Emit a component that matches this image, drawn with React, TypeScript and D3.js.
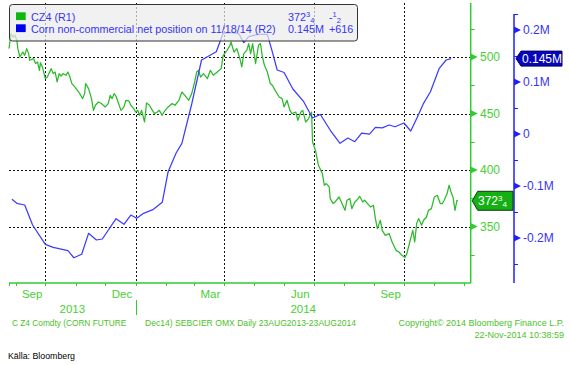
import React from "react";
import * as d3 from "d3";

// ---- Data ----
const czDates = [
  "2013-08-25","2013-08-27","2013-08-29","2013-08-31","2013-09-02","2013-09-03","2013-09-05","2013-09-08","2013-09-10","2013-09-12",
  "2013-09-14","2013-09-15","2013-09-19","2013-09-21","2013-09-23","2013-09-25","2013-09-26","2013-09-28","2013-10-01","2013-10-03",
  "2013-10-07","2013-10-09","2013-10-11","2013-10-13","2013-10-15","2013-10-17","2013-10-19","2013-10-22","2013-10-24","2013-10-26",
  "2013-10-28","2013-10-31","2013-11-04","2013-11-08","2013-11-10","2013-11-11","2013-11-14","2013-11-17","2013-11-19","2013-11-21",
  "2013-11-24","2013-11-27","2013-12-01","2013-12-04","2013-12-06","2013-12-08","2013-12-10","2013-12-12","2013-12-14","2013-12-17",
  "2013-12-20","2013-12-22","2013-12-25","2013-12-27","2013-12-30","2014-01-01","2014-01-03","2014-01-05","2014-01-07","2014-01-10",
  "2014-01-12","2014-01-15","2014-01-18","2014-01-20","2014-01-23","2014-01-25","2014-01-28","2014-01-29","2014-01-31","2014-02-03",
  "2014-02-07","2014-02-10","2014-02-14","2014-02-17","2014-02-20","2014-02-24","2014-02-27","2014-03-02","2014-03-04","2014-03-06",
  "2014-03-08","2014-03-11","2014-03-15","2014-03-18","2014-03-21","2014-03-25","2014-03-29","2014-03-31","2014-04-04","2014-04-07",
  "2014-04-08","2014-04-11","2014-04-14","2014-04-17","2014-04-19","2014-04-21","2014-04-24","2014-04-26","2014-04-28","2014-04-30",
  "2014-05-03","2014-05-06","2014-05-08","2014-05-10","2014-05-12","2014-05-15","2014-05-18","2014-05-20","2014-05-23","2014-05-27",
  "2014-05-30","2014-06-01","2014-06-04","2014-06-07","2014-06-09","2014-06-13","2014-06-15","2014-06-18","2014-06-20","2014-06-23",
  "2014-06-26","2014-06-29","2014-06-30","2014-07-03","2014-07-06","2014-07-10","2014-07-12","2014-07-14","2014-07-17","2014-07-18",
  "2014-07-21","2014-07-23","2014-07-27","2014-07-30","2014-08-02","2014-08-04","2014-08-07","2014-08-09","2014-08-12","2014-08-14",
  "2014-08-17","2014-08-20","2014-08-22","2014-08-25","2014-08-28","2014-08-31","2014-09-02","2014-09-04","2014-09-07","2014-09-09",
  "2014-09-12","2014-09-16","2014-09-19","2014-09-23","2014-09-26","2014-09-29","2014-10-02","2014-10-04","2014-10-07","2014-10-10",
  "2014-10-12","2014-10-14","2014-10-16","2014-10-19","2014-10-21","2014-10-24","2014-10-26","2014-10-29","2014-11-01","2014-11-04",
  "2014-11-07","2014-11-09","2014-11-11","2014-11-14","2014-11-16","2014-11-18","2014-11-20","2014-11-22","2014-11-24","2014-11-25",
];
const czPrices = [
  507.4,520.7,517.7,519.2,514.8,507.4,500.0,504.4,501.5,507.4,
  503.0,497.1,498.6,494.2,495.6,488.2,495.0,491.2,480.9,482.3,
  489.7,485.3,486.7,477.9,485.3,483.2,485.3,483.8,486.7,482.3,
  476.5,473.5,469.0,463.2,467.6,476.5,472.0,463.2,452.8,457.3,
  460.2,458.8,455.8,458.8,466.1,463.2,467.6,465.2,460.2,452.8,
  455.8,461.7,461.1,457.3,454.3,451.3,452.8,448.4,452.8,442.5,
  459.3,457.3,452.8,449.9,451.3,452.8,448.4,450.2,452.8,455.8,
  458.8,457.3,461.7,469.0,466.1,461.7,467.6,477.9,486.7,488.2,
  482.3,485.3,480.9,488.2,483.8,486.7,489.7,501.5,505.9,510.4,
  513.3,504.4,507.4,498.6,491.2,503.0,505.9,511.9,503.0,511.9,
  494.2,510.4,511.9,500.0,492.7,486.7,476.5,475.0,470.5,464.6,
  463.2,455.8,461.7,452.8,449.9,451.3,444.0,451.1,452.8,442.5,
  445.5,451.3,424.8,417.4,404.2,396.8,386.5,388.0,385.0,374.7,
  370.3,371.7,376.1,370.3,364.3,373.2,374.7,365.8,371.7,373.2,
  376.7,371.7,373.2,370.3,367.3,368.8,357.0,348.1,355.5,346.6,
  342.2,343.7,336.3,328.9,327.4,324.5,322.5,326.0,336.3,346.6,
  336.3,352.6,357.0,351.1,355.5,358.4,364.3,365.8,376.1,377.6,
  370.3,370.3,373.2,379.1,386.5,380.5,376.1,364.3,373.2,372.75,
];
const cotDates = [
  "2013-08-28","2013-09-02","2013-09-10","2013-09-18","2013-10-01","2013-10-09","2013-10-24","2013-10-30","2013-11-07","2013-11-14",
  "2013-11-22","2013-11-28","2013-12-12","2013-12-20","2013-12-27","2014-01-02","2014-01-09","2014-01-19","2014-01-28","2014-02-03",
  "2014-02-11","2014-02-17","2014-02-27","2014-03-09","2014-03-15","2014-03-24","2014-03-31","2014-04-08","2014-04-16","2014-04-21",
  "2014-04-26","2014-05-05","2014-05-15","2014-05-20","2014-05-25","2014-06-01","2014-06-10","2014-06-21","2014-06-30","2014-07-08",
  "2014-07-19","2014-07-28","2014-08-05","2014-08-12","2014-08-19","2014-08-27","2014-09-02","2014-09-09","2014-09-16","2014-09-22",
  "2014-10-01","2014-10-08","2014-10-15","2014-10-21","2014-10-28","2014-11-06","2014-11-13","2014-11-18",
];
// net position, thousands of contracts
const cotValues = [
  -125.6,-133.3,-136.5,-175.0,-212.1,-217.9,-224.4,-237.9,-231.3,-191.0,
  -203.8,-201.9,-162.9,-173.7,-155.8,-162.1,-152.5,-144.8,-131.3,-72.5,
  -37.1,-17.9,57.7,142.3,148.7,158.3,193.7,195.6,192.7,175.6,
  187.1,191.7,191.7,158.3,123.1,118.3,86.5,62.1,30.8,37.5,
  4.4,-17.9,-7.7,-14.8,1.9,-0.4,12.9,11.9,17.3,14.0,
  21.2,5.8,33.7,59.0,81.3,126.3,142.3,145.0,
];

const leftMajor = [350, 400, 450, 500];
const leftMinor = [325, 375, 425, 475, 525];
const rightMajor = [-200, -100, 0, 100, 200];
const rightMajorLabels = ["-0.2M", "-0.1M", "0", "0.1M", "0.2M"];
const rightMinor = [-250, -150, -50, 50, 150];
const yearLabels = ["2013", "2014"];
const legendNames = ["CZ4 (R1)", "Corn non-commercial net position on 11/18/14 (R2)"];
const lastPriceWhole = "372";
const lastPriceNum = "3";
const lastPriceDen = "4";
const priceChange = ["-", "1", "2"];
const lastCot = "0.145M";
const cotChange = "+616";
const footerLeft1 = "C Z4 Comdty (CORN FUTURE";
const footerLeft2 = "Dec14) SEBCIER OMX  Daily 23AUG2013-23AUG2014";
const footerRight1 = "Copyright\u00A9 2014 Bloomberg Finance L.P.";
const footerRight2 = "22-Nov-2014 10:38:59";
const sourceText = "K\u00E4lla: Bloomberg";

const FONT = "'Liberation Sans', Arial, sans-serif";
const GREEN_AX = "#2fcc2f";
const GREEN_TXT = "#48cf34";
const GREEN_LINE = "#2cba2c";
const BLUE_LINE = "#3c3cff";
const BLUE_AX = "#1f1fff";
const BLUE_TXT = "#3535f5";

export default function App() {
  const parse = d3.timeParse("%Y-%m-%d");
  const x0 = 9, x1 = 470.7, yTop = 0.5, yBot = 283;
  const axL = 470.7, axR = 514;

  const x = d3.scaleTime().domain([parse("2013-08-25")!, parse("2014-12-08")!]).range([x0, x1]);
  const yL = d3.scaleLinear().domain([300, 550]).range([yBot, yTop]);
  const yR = d3.scaleLinear().domain([-286.5, 230]).range([yBot, 14.4]);

  const cz = czDates.map((d, i) => ({ d: parse(d)!, v: czPrices[i] }));
  const cot = cotDates.map((d, i) => ({ d: parse(d)!, v: cotValues[i] }));

  const lineL = d3.line<{ d: Date; v: number }>().x(p => x(p.d)).y(p => yL(p.v));
  const lineR = d3.line<{ d: Date; v: number }>().x(p => x(p.d)).y(p => yR(p.v));

  const months = d3.timeMonth.range(new Date(2013, 8, 1), new Date(2014, 11, 2));
  const quarterLines = months.filter(m => m.getMonth() % 3 === 0);
  const labelMonths = months.filter(m => m.getMonth() % 3 === 2 && d3.timeMonth.offset(m, 1) <= x.domain()[1]);
  const fmtMon = d3.timeFormat("%b");
  const jan2014 = new Date(2014, 0, 1);

  const lastCz = cz[cz.length - 1];
  const lastCot2 = cot[cot.length - 1];
  const gy = yL(lastCz.v);
  const by = yR(lastCot2.v);

  return (
    <svg width={570} height={365} style={{ position: "absolute", left: 0, top: 0, background: "#fff" }}
      fontFamily={FONT}>
      <rect x={0} y={0} width={570} height={365} fill="#fff" />
      {/* grid */}
      {leftMajor.map(v => (
        <line key={"hg" + v} x1={x0} x2={axL} y1={Math.round(yL(v)) + 0.5} y2={Math.round(yL(v)) + 0.5}
          stroke="#111" strokeWidth={1} strokeDasharray="2,2" />
      ))}
      {quarterLines.map(m => (
        <line key={"vg" + m.getTime()} x1={Math.round(x(m)) + 0.5} x2={Math.round(x(m)) + 0.5} y1={3} y2={yBot}
          stroke="#111" strokeWidth={1} strokeDasharray="2,2" />
      ))}

      {/* series */}
      <path d={lineL(cz)!} fill="none" stroke={GREEN_LINE} strokeWidth={1.25} strokeLinejoin="round" />
      <path d={lineR(cot)!} fill="none" stroke={BLUE_LINE} strokeWidth={1.25} strokeLinejoin="round" />

      {/* bottom axis */}
      <line x1={x0} x2={axL} y1={yBot} y2={yBot} stroke={GREEN_AX} strokeWidth={1.5} />
      {months.map(m => (
        <line key={"mt" + m.getTime()} x1={Math.round(x(m)) + 0.5} x2={Math.round(x(m)) + 0.5} y1={yBot} y2={yBot + 3}
          stroke={GREEN_AX} strokeWidth={1} />
      ))}
      <line x1={x0 + 0.5} x2={x0 + 0.5} y1={yBot} y2={yBot + 3} stroke={GREEN_AX} />
      {labelMonths.map(m => {
        const mid = new Date((m.getTime() + d3.timeMonth.offset(m, 1).getTime()) / 2);
        return (
          <text key={"ml" + m.getTime()} x={x(mid) + 1.5} y={298} fontSize={11.5} fill={GREEN_TXT} textAnchor="middle">
            {fmtMon(m)}
          </text>
        );
      })}
      <line x1={Math.round(x(jan2014)) + 0.5} x2={Math.round(x(jan2014)) + 0.5} y1={300} y2={315} stroke={GREEN_AX} />
      <text x={(x0 + x(jan2014)) / 2} y={313} fontSize={11.5} fill={GREEN_TXT} textAnchor="middle">{yearLabels[0]}</text>
      <text x={(x(jan2014) + axL) / 2} y={313} fontSize={11.5} fill={GREEN_TXT} textAnchor="middle">{yearLabels[1]}</text>

      {/* left (R1) axis drawn at right */}
      <line x1={axL} x2={axL} y1={3} y2={yBot} stroke={GREEN_AX} strokeWidth={1.5} />
      {leftMinor.map(v => (
        <line key={"lm" + v} x1={axL} x2={axL + 4} y1={Math.round(yL(v)) + 0.5} y2={Math.round(yL(v)) + 0.5} stroke={GREEN_AX} />
      ))}
      {leftMajor.map(v => {
        const y = yL(v);
        return (
          <g key={"lM" + v}>
            <path d={`M${axL},${y - 3.5} L${axL + 7},${y} L${axL},${y + 3.5} Z`} fill={GREEN_AX} />
            <text x={480} y={y + 4} fontSize={12} fill={GREEN_TXT}>{v}</text>
          </g>
        );
      })}

      {/* right (R2) axis */}
      <line x1={axR} x2={axR} y1={14} y2={yBot} stroke={BLUE_AX} strokeWidth={1.5} />
      <line x1={axR} x2={axR + 4} y1={14.5} y2={14.5} stroke={BLUE_AX} />
      {rightMinor.map(v => (
        <line key={"rm" + v} x1={axR} x2={axR + 4} y1={Math.round(yR(v)) + 0.5} y2={Math.round(yR(v)) + 0.5} stroke={BLUE_AX} />
      ))}
      {rightMajor.map((v, i) => {
        const y = yR(v);
        return (
          <g key={"rM" + v}>
            <path d={`M${axR},${y - 3.5} L${axR + 7},${y} L${axR},${y + 3.5} Z`} fill={BLUE_AX} />
            <text x={523} y={y + 4} fontSize={12} fill={BLUE_TXT}>{rightMajorLabels[i]}</text>
          </g>
        );
      })}

      {/* last value tags */}
      <path d={`M${axL + 1.5},${gy} L${axL + 7},${gy - 9.5} L513,${gy - 9.5} L513,${gy + 9.5} L${axL + 7},${gy + 9.5} Z`}
        fill="#14b014" stroke="#0d3d0d" strokeWidth={1} />
      <text x={478} y={gy + 4.5} fontSize={12} fill="#fff">
        {lastPriceWhole}
        <tspan fontSize={8} dy={-4.5}>{lastPriceNum}</tspan>
        <tspan fontSize={8} dy={6.5}>{lastPriceDen}</tspan>
      </text>
      <path d={`M${axR + 2},${by} L${axR + 7},${by - 7.5} L562,${by - 7.5} L562,${by + 7.5} L${axR + 7},${by + 7.5} Z`}
        fill="#0606b8" stroke="#000060" strokeWidth={1} />
      <text x={522} y={by + 4.5} fontSize={12} fill="#fff">{lastCot}</text>

      {/* legend */}
      <rect x={9.5} y={4.5} width={348} height={36.5} rx={3} fill="#ececec" fillOpacity={0.72} stroke="#333" strokeWidth={1} />
      <rect x={16} y={12.3} width={9.7} height={7.8} fill="#0fb80f" />
      <rect x={16} y={24.3} width={9.7} height={7.8} fill="#0000f0" />
      <text x={31} y={20.5} fontSize={10.8} fill={BLUE_TXT}>{legendNames[0]}</text>
      <text x={31} y={33} fontSize={10.8} fill={BLUE_TXT}>{legendNames[1]}</text>
      <text x={288} y={20.5} fontSize={10.8} fill={BLUE_TXT}>
        {lastPriceWhole}
        <tspan fontSize={7.5} dy={-3.5}>{lastPriceNum}</tspan>
        <tspan fontSize={7.5} dy={5.5}>{lastPriceDen}</tspan>
      </text>
      <text x={329} y={20.5} fontSize={10.8} fill={BLUE_TXT}>
        {priceChange[0]}
        <tspan fontSize={7.5} dy={-3.5}>{priceChange[1]}</tspan>
        <tspan fontSize={7.5} dy={5.5}>{priceChange[2]}</tspan>
      </text>
      <text x={288} y={33} fontSize={10.8} fill={BLUE_TXT}>{lastCot}</text>
      <text x={329} y={33} fontSize={10.8} fill={BLUE_TXT}>{cotChange}</text>

      {/* footer */}
      <text x={12} y={326} fontSize={8.3} fill="#4cbf2a">{footerLeft1}</text>
      <text x={145} y={326} fontSize={8.6} fill="#4cbf2a">{footerLeft2}</text>
      <text x={564} y={326} fontSize={9} fill="#4cbf2a" textAnchor="end">{footerRight1}</text>
      <text x={564} y={338} fontSize={9} fill="#4cbf2a" textAnchor="end">{footerRight2}</text>
      <text x={8} y={359} fontSize={8.8} fill="#000">{sourceText}</text>
    </svg>
  );
}
